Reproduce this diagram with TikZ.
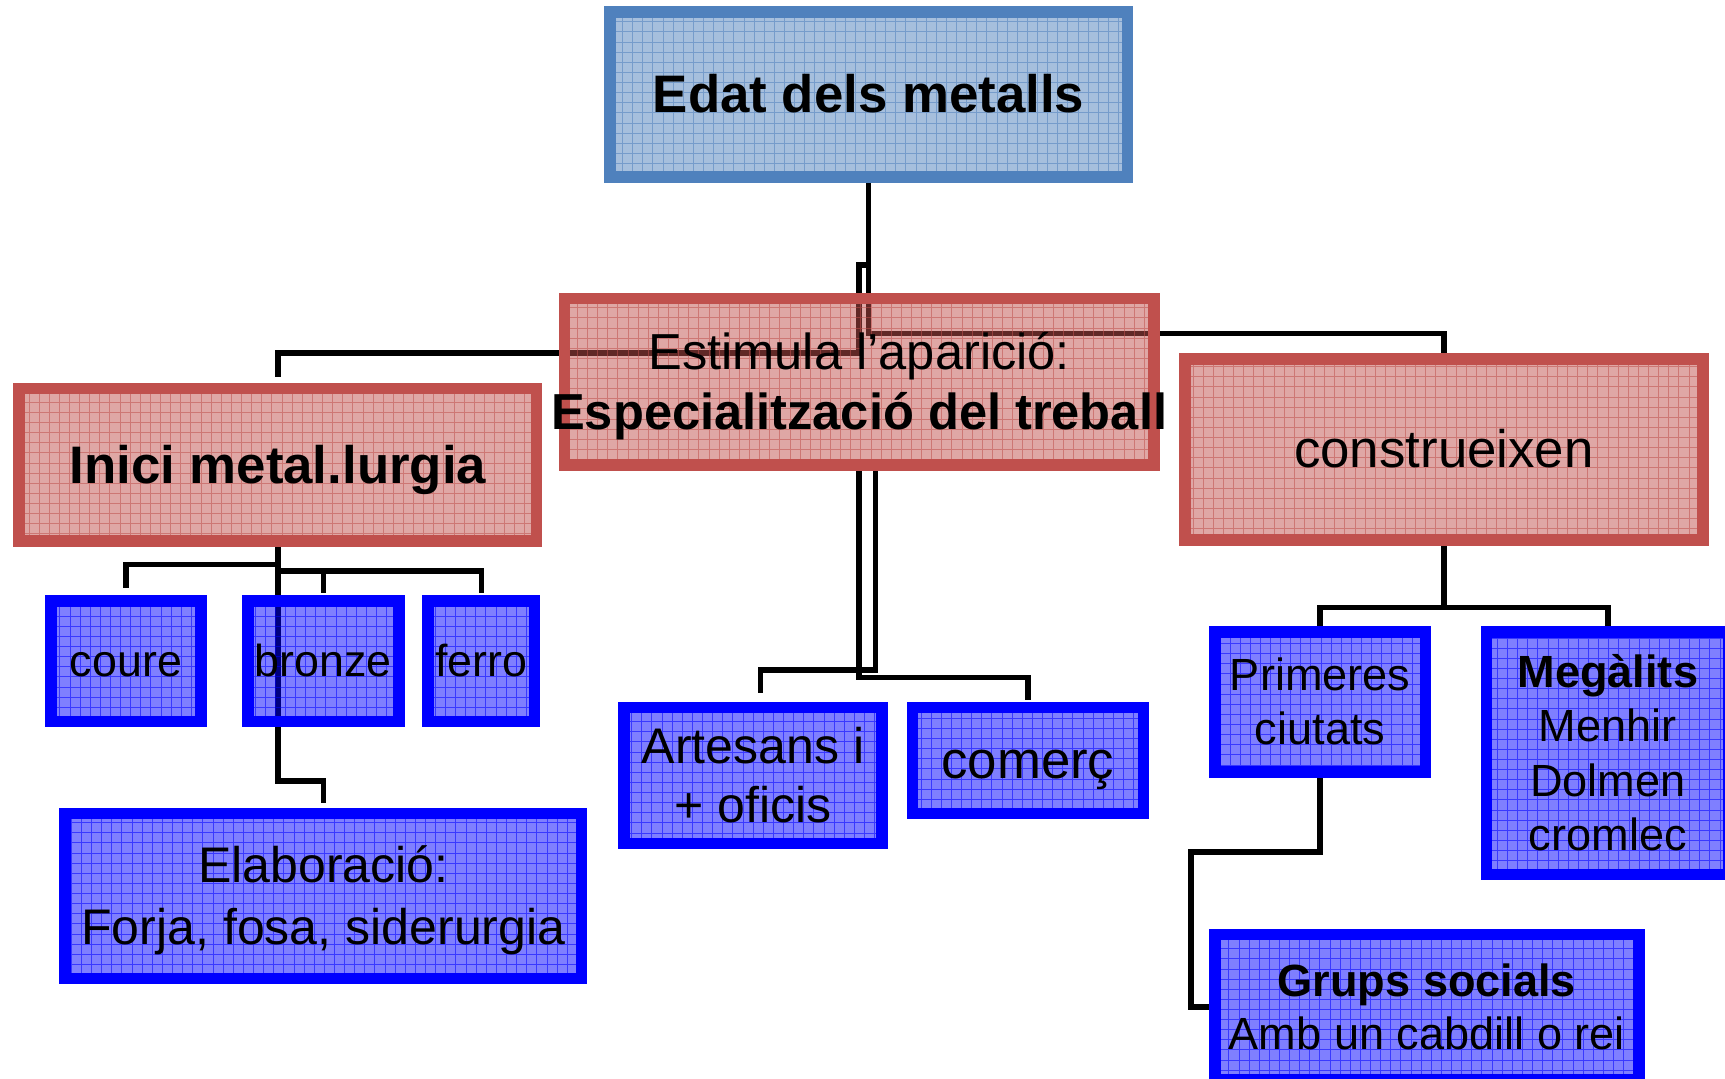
\documentclass[tikz,border=0pt]{standalone}
\usepackage{fontspec}
\setmainfont{Liberation Sans}
\definecolor{redb}{HTML}{C0504D}
\definecolor{blueb}{HTML}{4F81BD}
\definecolor{pureb}{HTML}{0000FF}
\newcommand\st{\rule[-0.22em]{0pt}{1.14em}}
\pgfdeclarelayer{paper}
\pgfdeclarelayer{wires}
\pgfsetlayers{paper,wires,main}
\tikzset{
  gridbox/.style={rectangle, inner sep=0pt, outer sep=0pt, line width=10.5pt, align=center,
    text=black, text opacity=1, draw=#1, fill=#1, fill opacity=0.5,
    path picture={\draw[#1, line width=0.8pt, draw opacity=0.55]
      (path picture bounding box.south west) grid[step=9.2pt] (path picture bounding box.north east);}},
  redbox/.style={gridbox=redb},
  bluebox/.style={gridbox=pureb},
  topbox/.style={gridbox=blueb},
  conn/.style={draw=black, line width=5pt, line join=miter},
}
\begin{document}
\begin{tikzpicture}[x=1pt,y=-1pt]
\begin{pgfonlayer}{paper}
\fill[white] (0,0) rectangle (1568,980);
\end{pgfonlayer}
\useasboundingbox (0,0) rectangle (1568,980);

% ---------- boxes ----------
\node[topbox, minimum width=470.5pt, minimum height=150pt, font=\fontsize{48}{56}\selectfont\bfseries] (edat) at (789.5,85.8) {\st Edat dels metalls};
\node[redbox, minimum width=535.5pt, minimum height=151.5pt, font=\fontsize{46}{54}\selectfont] (espec) at (781,347) {\st Estimula l’aparició:\\\st\makebox[0pt]{\bfseries Especialització del treball}};
\node[redbox, minimum width=470.5pt, minimum height=138.5pt, font=\fontsize{48}{56}\selectfont\bfseries] (inici) at (252.5,422.5) {\st Inici metal.lurgia};
\node[redbox, minimum width=470.5pt, minimum height=164.5pt, font=\fontsize{48}{56}\selectfont] (constr) at (1312.5,408.5) {\st construeixen};
\node[bluebox, minimum width=136.5pt, minimum height=109.5pt, font=\fontsize{40.7}{48}\selectfont] (coure) at (114.5,601) {\st coure};
\node[bluebox, minimum width=137.5pt, minimum height=109.5pt, font=\fontsize{40.7}{48}\selectfont] (bronze) at (294,601) {\st bronze};
\node[bluebox, minimum width=96.5pt, minimum height=109.5pt, font=\fontsize{40.7}{48}\selectfont] (ferro) at (437.5,601) {\st ferro};
\node[bluebox, minimum width=469.5pt, minimum height=150pt, font=\fontsize{45.5}{56}\selectfont] (elab) at (294,814.25) {\st Elaboració:\\\st Forja, fosa, siderurgia};
\node[bluebox, minimum width=234.5pt, minimum height=123.5pt, font=\fontsize{45.5}{54}\selectfont] (artes) at (684.5,705) {\st Artesans i\\\st + oficis};
\node[bluebox, minimum width=210pt, minimum height=96pt, font=\fontsize{48}{56}\selectfont] (comerc) at (934.25,691.25) {\st comerç};
\node[bluebox, minimum width=191.5pt, minimum height=127.5pt, font=\fontsize{41}{49.2}\selectfont] (prim) at (1200,638) {\st Primeres\\\st ciutats};
\node[bluebox, minimum width=220.5pt, minimum height=220.5pt, font=\fontsize{41}{49.5}\selectfont] (megal) at (1461.5,684.5) {\st\textbf{Megàlits}\\\st Menhir\\\st Dolmen\\\st cromlec};
\node[bluebox, minimum width=385.5pt, minimum height=132.5pt, font=\fontsize{41}{49}\selectfont] (grups) at (1297,915.5) {\st\textbf{Grups socials}\\\st Amb un cabdill o rei};

\coordinate (artesin) at ([xshift=7pt]artes.north);

% ---------- connectors (under the boxes) ----------
\begin{pgfonlayer}{wires}
\draw[conn, shorten >=11pt] (edat.south) |- (781,241) -- (781,321) -| (inici.north);
\draw[conn] (edat.south) |- (constr.north |- 0,303) -- (constr.north);
\draw[conn, shorten >=13pt] ([xshift=15pt]espec.south) |- (artesin |- 0,609) -- (artesin);
\draw[conn, shorten >=7pt] (espec.south) |- (comerc.north |- 0,616) -- (comerc.north);
\draw[conn, shorten >=12pt] (inici.south) |- (coure.north |- 0,513) -- (coure.north);
\draw[conn, shorten >=7pt] (inici.south) |- (ferro.north |- 0,518.8) -- (ferro.north);
\draw[conn, shorten >=7pt] (bronze.north |- 0,518.8) -- (bronze.north);
\draw[conn, shorten >=9.5pt] (inici.south) |- (elab.north |- 0,709.7) -- (elab.north);
\draw[conn, shorten >=5pt] (constr.south) |- (prim.north |- 0,552) -- (prim.north);
\draw[conn, shorten >=5pt] (constr.south) |- (megal.north |- 0,552) -- (megal.north);
\draw[conn, shorten >=5pt] (prim.south) |- (1082.4,774.5) |- (grups.west);
\end{pgfonlayer}
\end{tikzpicture}
\end{document}
